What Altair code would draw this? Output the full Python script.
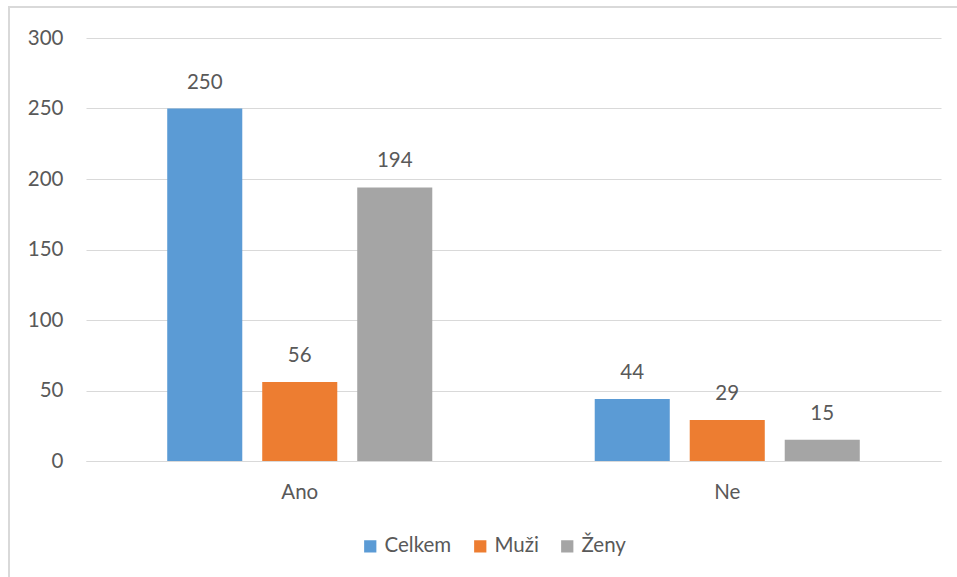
import altair as alt
import pandas as pd

# Survey answers split by group
answers = ["Ano", "Ne"]
groups = ["Celkem", "Muži", "Ženy"]
celkem = [250, 44]
muzi = [56, 29]
zeny = [194, 15]
colors = ["#5B9BD5", "#ED7D31", "#A5A5A5"]

rows = []
for i, a in enumerate(answers):
    for g, vals in zip(groups, [celkem, muzi, zeny]):
        rows.append({"odpoved": a, "skupina": g, "pocet": vals[i]})
df = pd.DataFrame(rows)

FONT = "Lato"
FS = 20.5
TXT = "#595959"
GRID = "#D9D9D9"

x_enc = alt.X("odpoved:N", sort=answers, title=None,
              scale=alt.Scale(paddingInner=0, paddingOuter=0),
              axis=alt.Axis(labelAngle=0, labelFontSize=FS, labelColor=TXT,
                            labelFont=FONT, labelPadding=21, ticks=False,
                            domainColor=GRID, domainWidth=1))
xoff = alt.XOffset("skupina:N", sort=groups,
                   scale=alt.Scale(paddingInner=0.21, paddingOuter=0.855))
y_enc = alt.Y("pocet:Q", title=None,
              scale=alt.Scale(domain=[0, 300], nice=False),
              axis=alt.Axis(values=[0, 50, 100, 150, 200, 250, 300],
                            labelFontSize=FS, labelColor=TXT, labelFont=FONT,
                            labelPadding=23, ticks=False, domain=False,
                            gridColor=GRID, gridWidth=1))

bars = alt.Chart(df).mark_bar().encode(
    x=x_enc,
    xOffset=xoff,
    y=y_enc,
    color=alt.Color("skupina:N", sort=groups,
                    scale=alt.Scale(domain=groups, range=colors),
                    legend=alt.Legend(title=None, orient="none",
                                      direction="horizontal",
                                      legendX=274, legendY=498,
                                      symbolType="square", symbolSize=150,
                                      symbolStrokeWidth=0,
                                      labelFontSize=FS, labelColor=TXT,
                                      labelFont=FONT, columnPadding=18,
                                      labelOffset=4)),
)

labels = alt.Chart(df).mark_text(fontSize=FS, font=FONT, color=TXT,
                                 baseline="alphabetic", dy=-20).encode(
    x=alt.X("odpoved:N", sort=answers),
    xOffset=alt.XOffset("skupina:N", sort=groups),
    y=alt.Y("pocet:Q"),
    text=alt.Text("pocet:Q"),
)

frame = alt.Chart(df).mark_rect(fill=None, stroke=GRID, strokeWidth=1.5,
                                clip=False).encode(
    x=alt.value(-77), x2=alt.value(880),
    y=alt.value(-31), y2=alt.value(545),
)

chart = alt.layer(frame, bars, labels).properties(
    width=855, height=423,
    autosize=alt.AutoSizeParams(type="none"),
    padding={"left": 86, "top": 38, "right": 16, "bottom": 116},
    background="white",
).configure_view(stroke=None)

chart.save("out.html", embed_options={"renderer": "svg", "actions": False})
